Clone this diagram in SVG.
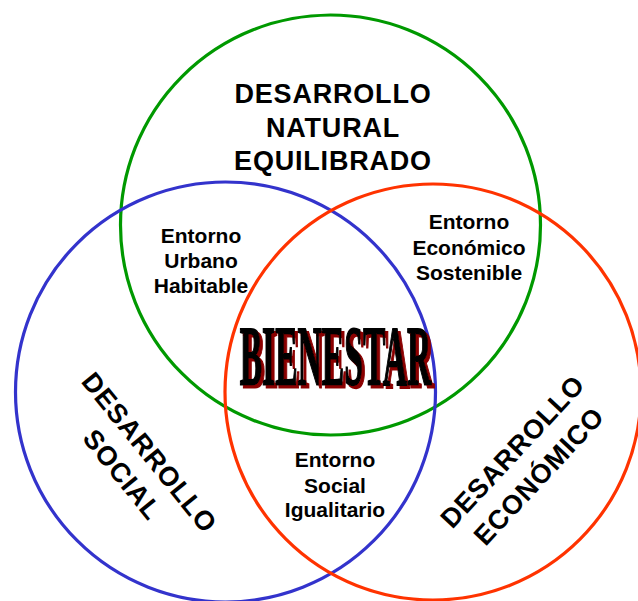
<svg xmlns="http://www.w3.org/2000/svg" width="638" height="601" viewBox="0 0 638 601">
<defs>
<filter id="shadow" x="-5%" y="-10%" width="115%" height="130%">
<feOffset in="SourceAlpha" dx="7" dy="3" result="off"/>
<feFlood flood-color="#8b0000"/>
<feComposite in2="off" operator="in" result="sh"/>
<feMerge><feMergeNode in="sh"/><feMergeNode in="SourceGraphic"/></feMerge>
</filter>
</defs>
<style>
.ring{fill:none;stroke-width:3.2}
.big{font-family:"Liberation Sans",Arial,sans-serif;font-weight:bold;font-size:27px;letter-spacing:0.8px;fill:#000;text-anchor:middle}
.small{font-family:"Liberation Sans",Arial,sans-serif;font-weight:bold;font-size:21px;fill:#000;text-anchor:middle}
.bien{font-family:"Liberation Serif","Times New Roman",serif;font-weight:bold;font-size:84px;text-anchor:middle;fill:#000;stroke:#000;stroke-width:2}
</style>
<rect width="638" height="601" fill="#fff"/>
<g id="natural">
<circle class="ring" cx="330.5" cy="225" r="210" stroke="#009900"/>
<text class="big" x="333" y="103">DESARROLLO</text>
<text class="big" x="333" y="137">NATURAL</text>
<text class="big" x="333" y="170">EQUILIBRADO</text>
</g>
<g id="social">
<circle class="ring" cx="225.5" cy="392" r="210" stroke="#3333cc"/>
<g transform="translate(150,452) rotate(51)">
<text class="big" x="0" y="10">DESARROLLO</text>
<text class="big" x="0" y="45">SOCIAL</text>
</g>
</g>
<g id="economico">
<circle class="ring" cx="433" cy="392" r="208" stroke="#ff3300"/>
<g transform="translate(512,451) rotate(-47)">
<text class="big" x="0" y="10">DESARROLLO</text>
<text class="big" x="0" y="46">ECONÓMICO</text>
</g>
</g>
<g id="urbano">
<text class="small" x="201" y="243">Entorno</text>
<text class="small" x="201" y="268">Urbano</text>
<text class="small" x="201" y="293">Habitable</text>
</g>
<g id="sostenible">
<text class="small" x="469" y="229">Entorno</text>
<text class="small" x="469" y="255">Económico</text>
<text class="small" x="469" y="280">Sostenible</text>
</g>
<g id="igualitario">
<text class="small" x="335" y="467">Entorno</text>
<text class="small" x="335" y="493">Social</text>
<text class="small" x="335" y="517">Igualitario</text>
</g>
<g id="bienestar">
<text class="bien" transform="translate(335.5,384.5) scale(0.4,1)" filter="url(#shadow)">BIENESTAR</text>
</g>
<g id="connectors"></g>
</svg>
